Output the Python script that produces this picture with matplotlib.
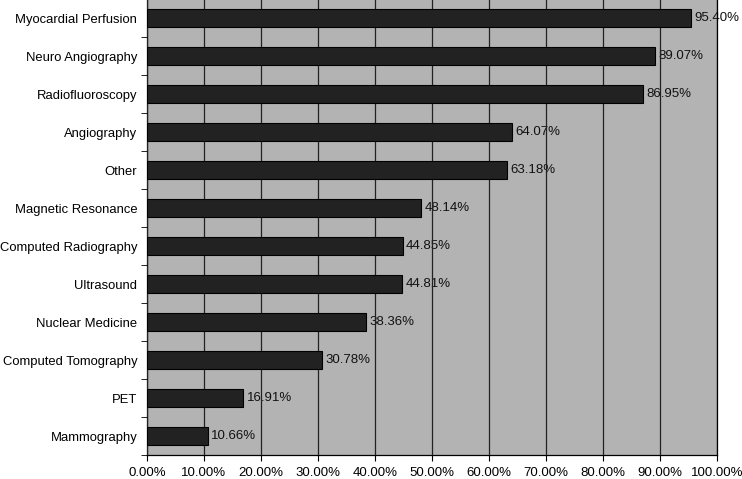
import numpy as np
import matplotlib.pyplot as plt
from matplotlib.ticker import FixedLocator

plt.rcParams['font.family'] = ['Liberation Sans', 'DejaVu Sans']

# data, top to bottom as in the picture
categories = ["Myocardial Perfusion", "Neuro Angiography", "Radiofluoroscopy",
              "Angiography", "Other", "Magnetic Resonance", "Computed Radiography",
              "Ultrasound", "Nuclear Medicine", "Computed Tomography", "PET",
              "Mammography"]
values = [95.40, 89.07, 86.95, 64.07, 63.18, 48.14, 44.85, 44.81, 38.36,
          30.78, 16.91, 10.66]
xticks = [0, 10, 20, 30, 40, 50, 60, 70, 80, 90, 100]

fig = plt.figure(figsize=(7.42, 4.79), dpi=100)
ax = fig.add_axes([147/742, 24/479, 570/742, 456/479])
ax.set_facecolor('#b3b3b3')

y = np.arange(len(categories))
ax.barh(y, values, height=0.45, color='#222222', edgecolor='black',
        linewidth=0.8, zorder=3)
for yi, v in zip(y, values):
    ax.text(v + 0.6, yi, "%.2f%%" % v, va='center', ha='left', fontsize=9.5,
            color='#111111', zorder=2)

ax.set_xlim(0, 100)
ax.set_ylim(len(categories) - 0.5, -0.5)
ax.set_xticks(xticks)
ax.set_xticklabels(["%.2f%%" % t for t in xticks], fontsize=9.5)
ax.set_yticks(y)
ax.set_yticklabels(categories, fontsize=9.4)
ax.tick_params(axis='y', length=0, pad=7)
ax.yaxis.set_minor_locator(FixedLocator(np.arange(-0.5, len(categories), 1)))
ax.tick_params(axis='y', which='minor', length=4, direction='out', color='black')
ax.tick_params(axis='x', length=4, direction='out', pad=5)

ax.xaxis.grid(True, color='#222222', linewidth=0.9, zorder=2.5)
ax.set_axisbelow(False)
ax.spines['top'].set_visible(False)
for s in ['left', 'bottom', 'right']:
    ax.spines[s].set_color('black')
    ax.spines[s].set_linewidth(0.9)

fig.savefig('out.png', dpi=100)
